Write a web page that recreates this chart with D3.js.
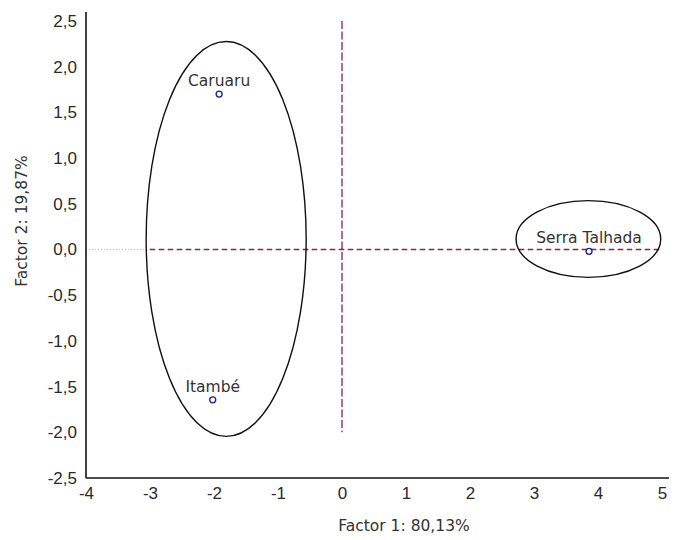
<!DOCTYPE html>
<html>
<head>
<meta charset="utf-8">
<script src="https://cdn.jsdelivr.net/npm/d3@7"></script>
<style>
    body { margin: 0; background: #fff; }
    .tick text { font-family: "Liberation Sans", Arial, sans-serif; font-size: 17px; fill: #2a2a2a; }
    .axis-label, .site-label { font-family: "DejaVu Sans", sans-serif; fill: #333; }
</style>
</head>
<body>
<svg id="chart"></svg>
<script>
// sites and their scores on the two factors
const sites = ["Caruaru", "Itambé", "Serra Talhada"];
const factor1 = [-1.92, -2.02, 3.86];
const factor2 = [1.70, -1.645, -0.02];

// grouping ellipses (centre and radii in factor units)
const groupCx = [-1.81, 3.85];
const groupCy = [0.115, 0.115];
const groupRx = [1.25, 1.13];
const groupRy = [2.16, 0.42];

const xTicks = [-4, -3, -2, -1, 0, 1, 2, 3, 4, 5];
const yTicks = [-2.5, -2.0, -1.5, -1.0, -0.5, 0, 0.5, 1.0, 1.5, 2.0, 2.5];
const xTitle = "Factor 1: 80,13%";
const yTitle = "Factor 2: 19,87%";

const totalWidth = 678,
    totalHeight = 540;

const svg = d3.select("#chart")
    .attr("width", totalWidth)
    .attr("height", totalHeight);

const x = d3.scaleLinear().domain([-4, 5]).range([86, 662]);
const y = d3.scaleLinear().domain([-2.5, 2.5]).range([478, 21]);

const locale = d3.formatLocale({ decimal: ",", thousands: ".", grouping: [3], currency: ["", ""], minus: "-" });
const fmtY = locale.format(".1f");
const fmtX = locale.format("d");

// zero lines: grey dotted across, dark red dashed over it
svg.append("line")
    .attr("x1", x(-4)).attr("x2", x(5))
    .attr("y1", y(0)).attr("y2", y(0))
    .style("stroke", "#bbb")
    .style("stroke-dasharray", "1,2");
svg.append("line")
    .attr("x1", x(-3)).attr("x2", x(5))
    .attr("y1", y(0)).attr("y2", y(0))
    .style("stroke", "#8a2444")
    .style("stroke-width", 1.3)
    .style("stroke-dasharray", "5,4");
svg.append("line")
    .attr("x1", x(0)).attr("x2", x(0))
    .attr("y1", y(2.5)).attr("y2", y(-2.0))
    .style("stroke", "#8a2444")
    .style("stroke-width", 1.3)
    .style("stroke-dasharray", "8,2.5");

// ellipses
svg.selectAll(".group")
    .data(groupCx)
    .enter()
    .append("ellipse")
    .attr("class", "group")
    .attr("cx", (d, i) => x(d))
    .attr("cy", (d, i) => y(groupCy[i]))
    .attr("rx", (d, i) => x(d + groupRx[i]) - x(d))
    .attr("ry", (d, i) => y(groupCy[i] - groupRy[i]) - y(groupCy[i]))
    .style("fill", "none")
    .style("stroke", "#111")
    .style("stroke-width", 1.4);

// axes
const gx = svg.append("g")
    .attr("class", "axis axis-x")
    .attr("transform", "translate(0," + y(-2.5) + ")")
    .call(d3.axisBottom(x).tickValues(xTicks).tickFormat(fmtX).tickSize(0).tickPadding(9));
gx.select(".domain").remove();

const gy = svg.append("g")
    .attr("class", "axis axis-y")
    .attr("transform", "translate(" + x(-4) + ",0)")
    .call(d3.axisLeft(y).tickValues(yTicks).tickFormat(fmtY).tickSize(0).tickPadding(9));
gy.select(".domain").remove();

svg.append("line")
    .attr("x1", x(-4)).attr("x2", x(-4))
    .attr("y1", y(2.5) - 9).attr("y2", y(-2.5))
    .style("stroke", "#111").style("stroke-width", 1.6);
svg.append("line")
    .attr("x1", x(-4)).attr("x2", x(5) + 7)
    .attr("y1", y(-2.5)).attr("y2", y(-2.5))
    .style("stroke", "#111").style("stroke-width", 1.6);

// axis titles
svg.append("text")
    .attr("class", "axis-label")
    .attr("x", 404)
    .attr("y", 531)
    .style("text-anchor", "middle")
    .style("font-size", "15.5px")
    .text(xTitle);
svg.append("text")
    .attr("class", "axis-label")
    .attr("transform", "translate(27,221) rotate(-90)")
    .style("text-anchor", "middle")
    .style("font-size", "15.5px")
    .text(yTitle);

// points and labels
const site = svg.selectAll(".site")
    .data(sites)
    .enter()
    .append("g")
    .attr("class", "site");

site.append("circle")
    .attr("cx", (d, i) => x(factor1[i]))
    .attr("cy", (d, i) => y(factor2[i]))
    .attr("r", 3)
    .style("fill", "none")
    .style("stroke", "#1c1c8e")
    .style("stroke-width", 1.3);

site.append("text")
    .attr("class", "site-label")
    .attr("x", (d, i) => x(factor1[i]))
    .attr("y", (d, i) => y(factor2[i]) - 8)
    .style("text-anchor", "middle")
    .style("font-size", "15.5px")
    .text(d => d);
</script>
</body>
</html>
